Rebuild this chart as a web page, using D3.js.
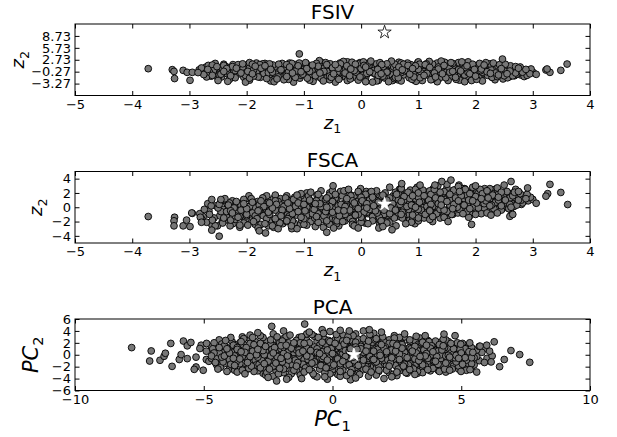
<!DOCTYPE html>
<html><head><meta charset="utf-8">
<script src="https://cdn.jsdelivr.net/npm/d3@7"></script>
<style>
body{margin:0;background:#fff;}
svg{display:block;}
text{font-family:"DejaVu Sans",sans-serif;fill:#000;}
</style></head><body>
<svg id="chart" width="617" height="437"></svg>
<script>
// FSIV projection: [z1, z2]
const fsivPoints = [
[-2.12,0.4],[-1.63,-1.2],[-0.88,0.9],[-0.41,-0.3],[0.07,1.5],[0.61,-0.8],[1.12,0.2],[1.38,-1.7],[1.94,0.6],[2.41,-0.4],[-2.71,0.9],
[-1.86,-0.6],[-1.42,1.3],[-1.07,-1.9],[-0.63,0.1],[0.19,-0.5],[0.38,0.8],[0.83,-1.3],[1.62,1.1],[2.13,-0.9],[2.57,0.3],[2.86,-0.7],
[-2.23,-1.1],[-1.51,0.2],[-0.93,-0.2],[-0.37,1.9],[-0.12,-1.4],[0.72,0.5],[1.21,-0.5],[1.47,0.0],[1.88,-2.0],[2.33,1.0],[-2.48,-0.3],
[-1.97,1.6],[-1.28,-0.8],[-0.71,-1.1],[-0.22,0.6],[0.31,-2.1],[0.54,0.1],[1.03,1.4],[1.71,-0.4],[2.22,0.4],[2.68,-1.3],[0.02,-0.1],
[-2.31,0.7],[-1.74,-0.2],[-1.19,0.5],[-0.56,-0.9],[-0.04,0.3],[0.47,-1.6],[0.96,-0.1],[1.29,0.8],[2.04,-1.1],[2.49,0.1],[-2.62,-1.4],
[-2.05,-1.7],[-1.57,0.9],[-0.81,0.3],[-0.29,-1.5],[0.12,0.9],[0.66,2.1],[1.17,-1.0],[1.56,-0.7],[1.79,1.4],[2.38,-0.8],[2.93,-0.2],
[-1.81,0.0],[-1.36,-1.4],[-0.98,1.1],[-0.47,0.4],[0.25,-0.9],[0.79,-0.3],[1.33,1.9],[1.91,-0.2],[2.28,-1.6],[2.62,0.7],[-0.67,-2.3],
[-2.27,0.2],[-1.68,1.8],[-1.12,-0.5],[-0.59,1.3],[-0.08,-0.6],[0.43,0.4],[0.88,1.0],[1.44,-1.2],[1.99,0.9],[2.46,-1.0],[-2.77,-0.2],
[-1.93,-0.9],[-1.47,0.6],[-0.79,-1.6],[-0.33,-0.1],[0.21,1.2],[0.58,-0.6],[1.08,0.4],[1.66,0.3],[2.17,-0.3],[2.71,0.2],[1.24,-2.2],
[-2.16,1.2],[-1.58,-1.0],[-1.01,0.1],[-0.52,-0.5],[-0.17,0.8],[0.34,-1.2],[0.91,-0.7],[1.51,1.5],[2.08,0.1],[2.53,-0.6],[-2.55,0.5],
[-1.77,0.5],[-1.24,1.0],[-0.86,-0.8],[-0.43,0.9],[0.08,-1.8],[0.69,0.7],[1.19,0.0],[1.58,-0.2],[1.84,-1.5],[2.31,0.6],[2.79,-1.1],
[-2.38,-0.7],[-1.89,0.9],[-1.33,0.4],[-0.74,0.6],[-0.26,-0.8],[0.16,0.2],[0.74,-1.1],[1.26,-1.3],[1.73,0.9],[2.24,-0.5],[-0.02,2.0],
[-2.09,-0.3],[-1.61,-1.5],[-1.15,1.5],[-0.66,-0.4],[-0.11,1.1],[0.52,-0.2],[0.99,2.0],[1.41,0.5],[2.01,-0.7],[2.59,-0.9],[-2.67,1.3],
[-1.84,-1.3],[-1.39,0.0],[-0.95,0.6],[-0.38,-1.9],[0.29,0.5],[0.63,-1.4],[1.14,0.7],[1.69,-1.0],[2.19,1.2],[2.44,0.0],[3.01,-0.5],
[-2.24,1.5],[-1.71,0.3],[-1.05,-1.2],[-0.49,0.2],[0.04,-1.0],[0.41,1.3],[0.86,0.2],[1.36,-0.4],[1.96,-1.3],[2.64,-0.3],[0.93,-2.4],
[-1.99,0.3],[-1.46,-0.6],[-0.76,1.6],[-0.18,-1.2],[0.36,-0.3],[0.77,1.1],[1.31,-0.8],[1.82,0.2],[2.26,0.9],[2.74,-0.8],[-2.44,-1.6],
[-2.34,-0.1],[-1.8,1.1],[-1.22,-0.3],[-0.61,-1.4],[-0.06,0.4],[0.57,0.9],[1.06,-1.5],[1.53,-0.9],[2.11,0.5],[2.36,-1.4],[-1.52,-2.2],
[-2.02,-1.2],[-1.54,1.4],[-0.9,-0.4],[-0.45,1.1],[0.17,-0.2],[0.49,-0.9],[1.01,0.9],[1.64,0.7],[2.06,-1.8],[2.55,0.5],[2.84,0.1],
[-1.9,1.0],[-1.31,-1.1],[-0.83,0.7],[-0.31,0.5],[0.27,1.7],[0.7,-0.5],[1.23,0.3],[1.76,-0.6],[2.29,-0.1],[2.66,-0.5],[-2.58,-0.9],
[-2.19,-0.5],[-1.66,0.1],[-1.09,0.9],[-0.57,-0.1],[-0.14,-1.7],[0.31,0.6],[0.82,-0.4],[1.49,0.2],[1.92,1.1],[2.51,-1.2],[0.6,-2.1],
[-2.42,0.3],[-1.76,-1.7],[-1.26,0.7],[-0.68,-0.7],[0.11,-0.8],[0.62,0.3],[1.16,1.2],[1.59,-1.5],[2.14,-0.6],[2.42,0.8],[-0.24,2.2],
[-1.95,0.7],[-1.44,-0.3],[-1.03,-0.7],[-0.35,1.4],[0.22,0.0],[0.87,1.5],[1.28,-0.1],[1.81,-1.1],[2.35,0.3],[2.77,-0.2],[-2.83,0.2],
[-2.28,-1.5],[-1.59,0.5],[-0.96,1.8],[-0.51,-1.1],[0.06,0.7],[0.53,-1.1],[1.09,-0.3],[1.43,1.0],[2.03,0.7],[2.6,-1.5],[1.7,2.0],
[-2.07,0.9],[-1.49,-0.9],[-0.73,0.0],[-0.2,-0.3],[0.39,1.0],[0.94,0.6],[1.37,-1.9],[1.86,0.5],[2.21,-1.2],[2.69,0.4],[-1.2,-2.4],
[-1.83,-0.4],[-1.35,0.8],[-0.89,-1.3],[-0.42,-0.6],[0.14,1.4],[0.68,-0.1],[1.11,-0.9],[1.61,1.3],[2.12,-0.4],[2.47,-1.7],[2.97,0.4],
[-2.36,1.0],[-1.7,-0.7],[-1.17,-1.6],[-0.64,0.8],[-0.09,-0.4],[0.46,-0.4],[0.97,1.3],[1.54,0.6],[1.97,-0.9],[2.39,1.2],[-2.5,-1.9],
[-2.13,-0.8],[-1.62,0.7],[-1.1,0.3],[-0.54,1.7],[0.02,-1.2],[0.59,1.6],[1.05,-0.6],[1.68,-1.4],[2.27,0.2],[2.58,0.9],[0.3,-2.5],
[-1.88,0.1],[-1.27,-0.4],[-0.8,-1.0],[-0.27,0.3],[0.33,-1.5],[0.76,0.0],[1.25,1.6],[1.78,1.7],[2.09,0.0],[2.72,-0.9],[-1.95,2.0],
[-2.2,0.0],[-1.45,-1.6],[-0.99,1.2],[-0.44,-1.7],[0.24,-0.7],[0.84,-1.8],[1.35,0.9],[1.87,-0.5],[2.32,-0.9],[-0.7,2.1],[1.0,-2.3],
[-1.72,1.3],[-1.14,-0.1],[-0.6,-0.2],[-0.05,1.7],[0.44,-1.9],[1.18,-1.2],[1.63,-0.5],[2.16,1.5],[2.52,-0.2],[-2.4,1.6],[0.7,1.9],
[-2.55,1.8],[-1.95,-2.4],[-1.38,1.8],[-0.84,-2.7],[-0.31,2.3],[0.27,-2.6],[0.81,1.9],[1.33,-2.8],[1.87,2.2],[2.34,-2.3],[2.78,0.9],
[-2.3,-2.2],[-1.72,1.7],[-1.18,-2.9],[-0.62,2.0],[-0.05,-2.4],[0.53,2.4],[1.07,-2.5],[1.6,1.8],[2.12,-2.6],[2.61,1.2],[-2.7,-1.6],
[-2.15,1.5],[-1.58,-2.6],[-0.98,1.7],[-0.45,-2.9],[0.13,1.9],[0.64,-2.3],[1.19,2.3],[1.72,-2.4],[2.25,1.7],[2.85,-1.5],[-0.73,2.5],
[-2.48,-1.1],[-1.83,1.9],[-1.27,-2.2],[-0.7,-1.9],[-0.16,2.1],[0.4,-1.8],[0.96,-2.7],[1.46,2.1],[1.98,-1.9],[2.48,-2.1],[2.7,1.0],
[-2.02,-2.9],[-1.44,1.6],[-0.9,-2.4],[-0.36,1.7],[0.2,-2.9],[0.74,1.6],[1.26,-2.0],[1.81,-2.8],[2.31,1.9],[-2.6,1.4],[0.55,-2.5],
[-2.4,1.3],[-1.65,-2.0],[-1.08,1.9],[-0.55,-2.3],[0.04,2.2],[0.58,-2.0],[1.14,1.7],[1.66,-2.2],[2.18,2.0],[2.56,-1.8],[-1.25,1.9],
[-2.2,-1.8],[-1.52,-2.8],[-0.94,-1.9],[-0.24,-2.5],[0.33,2.0],[0.89,-2.2],[1.4,2.4],[1.93,-2.5],[2.42,1.5],[-2.75,-0.5],[1.0,2.2],
[-1.9,1.6],[-1.35,-2.3],[-0.78,1.8],[-0.19,-2.1],[0.45,1.7],[1.03,-1.8],[1.52,-2.5],[2.07,1.8],[2.65,-1.3],[-2.5,-2.5],[0.08,-2.8],
[-2.33,-2.7],[-1.77,1.5],[-1.21,1.8],[-0.66,-2.6],[-0.1,1.6],[0.48,-2.8],[1.02,1.6],[1.57,2.0],[2.02,-2.2],[2.52,1.6],[2.9,-1.2],
[-2.07,1.7],[-1.47,-2.1],[-0.97,2.0],[-0.39,-2.2],[0.17,2.4],[0.7,-2.6],[1.22,-2.3],[1.76,2.2],[2.29,-1.7],[-2.58,0.0],[-0.55,-1.4],
[-2.45,-0.9],[-1.8,-1.6],[-1.15,-1.7],[-0.6,1.5],[-0.02,-1.6],[0.36,1.5],[0.92,-1.6],[1.48,-1.8],[1.95,1.6],[2.38,-1.5],[-1.6,1.7],
[-2.25,1.0],[-1.62,-0.5],[-1.02,-0.9],[-0.5,0.7],[0.1,-0.7],[0.66,0.9],[1.15,-0.7],[1.7,0.2],[2.2,-0.3],[2.7,-0.6],[-2.65,-0.4],
[-1.98,-0.2],[-1.4,0.2],[-0.86,0.0],[-0.28,-0.6],[0.29,0.3],[0.85,-0.9],[1.35,0.4],[1.9,-0.8],[2.45,0.5],[2.95,-0.8],[0.0,0.5],
[-2.35,0.5],[-1.75,0.6],[-1.2,-0.6],[-0.65,-0.2],[-0.12,0.0],[0.45,-0.4],[1.0,0.3],[1.55,-0.4],[2.1,0.4],[2.6,-0.1],[-0.9,-0.2],
[-2.1,-0.6],[-1.55,-0.4],[-0.95,0.5],[-0.4,0.6],[0.15,-0.3],[0.72,0.2],[1.28,-0.6],[1.82,0.8],[2.35,-0.6],[2.82,-0.4],[1.6,-0.2],
[-2.6,-1.2],[-1.88,-1.4],[-1.3,1.5],[-0.75,1.1],[-0.2,-1.3],[0.38,-1.4],[0.95,1.2],[1.45,1.3],[2.0,-1.4],[2.5,-1.3],[-0.45,1.5],
[-2.28,-1.3],[-1.68,1.2],[-1.1,1.2],[-0.52,-1.7],[0.05,1.3],[0.6,-1.7],[1.12,1.5],[1.65,-1.7],[2.15,1.4],[2.75,0.6],[-1.95,-1.9],
[-1.85,1.1],[-1.3,-1.5],[-0.8,-1.3],[-0.25,1.2],[0.3,-1.2],[0.82,1.3],[1.3,-1.6],[1.85,1.2],[2.4,-1.1],[-2.52,1.0],[0.65,-1.8],
[-2.4,-0.2],[-1.9,-0.8],[-1.25,0.9],[-0.72,-0.6],[-0.18,0.4],[0.35,-0.8],[0.9,0.5],[1.42,-0.8],[1.98,0.3],[2.55,-0.8],[2.88,0.3],
[-2.18,0.6],[-1.58,0.3],[-1.05,-0.3],[-0.48,-0.8],[0.08,0.9],[0.62,-0.6],[1.2,0.8],[1.74,-0.1],[2.26,-0.7],[-0.85,1.4],[1.1,-1.2],
[-3.72,0.48],[-3.3,0.23],[-3.27,-0.2],[-3.26,-2.0],[-3.11,0.06],[-3.04,-0.44],[-2.95,-0.44],[-2.99,-2.45],[-2.79,0.65],[-2.75,-1.0],
[-2.68,0.3],[-2.85,-0.5],[3.23,0.15],[3.3,-0.44],[3.49,0.06],[3.6,1.65],[3.25,0.4],[3.06,-0.94],[2.47,2.9],[-1.08,4.2]
];
const fsivStar = [0.41, 9.65];

// FSCA projection: [z1, z2]
const fscaPoints = [
[-2.14,0.0],[-1.61,-1.9],[-0.93,1.3],[-0.44,-0.5],[0.09,2.2],[0.58,-1.4],[1.07,0.9],[1.52,-0.3],[1.98,2.4],[2.43,0.5],[-2.66,-0.5],
[-1.87,-0.9],[-1.41,1.2],[-1.06,-2.4],[-0.62,0.3],[0.18,-0.7],[0.39,1.5],[0.84,-1.1],[1.63,2.4],[2.12,-0.3],[2.56,2.0],[2.87,0.9],
[-2.24,-2.3],[-1.52,-0.2],[-0.91,-0.4],[-0.36,2.2],[-0.13,-1.9],[0.73,1.1],[1.22,-0.2],[1.46,0.9],[1.89,-1.3],[2.34,2.5],[-2.47,-1.2],
[-1.96,1.2],[-1.29,-1.5],[-0.72,-1.6],[-0.21,0.8],[0.32,-2.2],[0.55,0.6],[1.04,2.4],[1.72,0.4],[2.21,1.6],[2.67,0.1],[0.01,0.1],
[-2.32,0.1],[-1.73,-1.0],[-1.18,0.2],[-0.57,-1.4],[-0.03,0.5],[0.48,-1.7],[0.97,0.4],[1.3,1.7],[2.05,-0.5],[2.48,1.4],[-2.61,-2.4],
[-2.03,-2.0],[-1.56,0.6],[-0.82,0.2],[-0.28,-1.9],[0.13,1.3],[0.67,2.5],[1.18,-0.7],[1.57,-0.1],[1.81,2.6],[2.37,0.2],[2.92,0.9],
[-1.79,-0.6],[-1.37,-2.3],[-0.97,1.0],[-0.46,0.5],[0.26,-0.9],[0.81,0.1],[1.34,3.0],[1.93,0.8],[2.29,-0.6],[2.63,1.9],[-0.66,-2.8],
[-2.26,0.4],[-1.69,1.4],[-1.13,-1.1],[-0.58,1.4],[-0.07,-0.8],[0.44,0.8],[0.89,1.8],[1.43,-0.8],[1.99,2.0],[2.46,0.1],[-2.76,-1.3],
[-1.92,-1.8],[-1.48,0.3],[-0.78,-2.3],[-0.34,-0.3],[0.22,1.7],[0.59,-0.5],[1.09,1.2],[1.67,1.2],[2.18,0.6],[2.72,1.6],[1.25,-2.0],
[-2.17,0.6],[-1.57,-1.9],[-1.02,0.1],[-0.51,-1.0],[-0.16,1.2],[0.35,-1.6],[0.92,-0.5],[1.5,2.7],[2.07,1.2],[2.54,0.4],[-2.54,0.2],
[-1.76,0.0],[-1.23,1.0],[-0.87,-1.5],[-0.42,1.3],[0.07,-2.2],[0.68,1.3],[1.2,0.5],[1.59,0.6],[1.83,-0.9],[2.32,1.9],[2.8,0.4],
[-2.37,-1.8],[-1.9,0.5],[-1.32,0.0],[-0.73,0.6],[-0.25,-1.3],[0.16,0.4],[0.74,-1.3],[1.27,-1.1],[1.74,2.0],[2.23,0.5],[-0.01,2.6],
[-2.08,-0.7],[-1.62,-2.6],[-1.16,1.4],[-0.67,-0.9],[-0.12,1.6],[0.51,-0.1],[0.98,2.8],[1.42,1.3],[2.02,0.2],[2.58,0.7],[-2.68,0.5],
[-1.85,-2.4],[-1.38,-0.6],[-0.94,0.4],[-0.39,-2.6],[0.28,0.9],[0.64,-1.3],[1.13,1.5],[1.7,-0.6],[2.2,2.3],[2.45,1.0],[3.0,1.1],
[-2.25,0.9],[-1.72,-0.2],[-1.04,-1.8],[-0.48,0.0],[0.03,-1.2],[0.42,2.0],[0.87,0.7],[1.37,0.3],[1.95,-0.6],[2.65,1.0],[0.94,-2.3],
[-1.98,-0.3],[-1.45,-1.4],[-0.77,1.7],[-0.19,-1.6],[0.37,0.0],[0.78,1.9],[1.32,-0.7],[1.8,1.2],[2.25,2.6],[2.75,0.7],[-2.43,-2.1],
[-2.33,-0.8],[-1.81,0.8],[-1.21,-1.0],[-0.6,-2.1],[-0.07,0.8],[0.56,1.6],[1.05,-1.1],[1.54,-0.3],[2.1,1.7],[2.35,-0.1],[-1.53,-2.8],
[-2.01,-1.6],[-1.53,1.2],[-0.89,-0.6],[-0.45,1.3],[0.16,-0.2],[0.5,-0.9],[1.02,1.8],[1.65,1.8],[2.06,-0.6],[2.55,1.7],[2.83,1.6],
[-1.89,0.7],[-1.3,-2.0],[-0.84,0.8],[-0.3,0.5],[0.27,2.3],[0.71,-0.4],[1.24,1.0],[1.77,0.1],[2.3,1.3],[2.66,0.5],[-2.57,-1.5],
[-2.18,-1.0],[-1.65,-0.3],[-1.08,0.5],[-0.56,-0.4],[-0.15,-2.0],[0.3,0.9],[0.83,-0.3],[1.48,1.1],[1.91,2.1],[2.52,0.1],[0.61,-2.6],
[-2.41,-0.3],[-1.75,-2.4],[-1.25,0.5],[-0.69,-1.1],[0.12,-0.9],[0.63,0.8],[1.15,2.1],[1.6,-1.0],[2.15,0.5],[2.41,2.2],[-0.23,2.4],
[-1.94,0.2],[-1.43,-1.0],[-1.02,-1.2],[-0.33,1.6],[0.23,0.2],[0.86,2.4],[1.29,0.5],[1.82,-0.4],[2.36,1.5],[2.78,1.2],[-2.82,-0.9],
[-2.29,-2.6],[-1.6,0.1],[-0.95,2.0],[-0.5,-1.6],[0.05,0.9],[0.54,-1.2],[1.1,0.2],[1.44,2.0],[2.04,1.9],[2.61,-0.3],[1.71,3.1],
[-2.06,0.7],[-1.5,-1.7],[-0.74,-0.2],[-0.2,-0.6],[0.4,1.5],[0.95,1.2],[1.38,-1.5],[1.87,1.3],[2.22,-0.3],[2.7,1.3],[-1.21,-3.0],
[-1.82,-1.1],[-1.34,0.6],[-0.88,-2.0],[-0.41,-0.9],[0.15,2.0],[0.69,0.2],[1.12,-0.5],[1.62,2.4],[2.13,0.6],[2.47,-0.2],[2.96,1.4],
[-2.35,0.6],[-1.71,-1.2],[-1.17,-2.2],[-0.65,0.9],[-0.1,-0.5],[0.47,-0.3],[0.96,2.2],[1.55,1.5],[1.96,-0.3],[2.39,2.3],[-2.51,-2.6],
[-2.12,-1.3],[-1.63,0.4],[-1.1,-0.2],[-0.55,2.0],[0.02,-1.6],[0.6,2.1],[1.06,0.0],[1.69,-0.8],[2.27,1.0],[2.59,1.8],[0.31,-2.9],
[-1.88,-0.4],[-1.28,-0.9],[-0.81,-1.5],[-0.26,0.3],[0.33,-1.8],[0.77,0.5],[1.26,2.6],[1.78,2.6],[2.09,0.1],[2.73,0.6],[-1.96,1.6],
[-2.2,-0.3],[-1.46,-2.1],[-0.99,1.2],[-0.43,-2.3],[0.24,-0.6],[0.85,-1.8],[1.36,1.7],[1.86,0.4],[2.33,0.4],[-0.7,2.3],[1.0,-1.9],
[-1.73,1.0],[-1.14,-0.5],[-0.61,-0.5],[-0.04,2.0],[0.45,-2.0],[1.19,-0.8],[1.64,0.2],[2.16,2.6],[2.51,0.9],[-2.4,1.0],[0.7,2.7],
[-1.55,0.0],[-0.35,-0.2],[0.8,1.0],[1.9,0.6],[-2.0,-1.2],[0.1,-0.7],[1.4,-0.2],[-0.9,0.9],[2.4,1.8],[-1.2,-1.9],[0.5,-0.3],
[-1.0,-0.6],[0.25,0.4],[1.75,-0.3],[-2.3,-0.4],[-0.15,0.1],[1.15,1.3],[2.2,0.9],[-1.65,-1.6],[0.65,-0.8],[-0.55,1.7],[1.55,0.3],
[-1.35,-0.3],[-0.05,-0.4],[0.9,0.2],[2.0,1.4],[-0.75,-0.9],[1.5,-1.3],[-1.85,-0.1],[0.4,-1.0],[2.5,0.6],[-0.25,1.0],[1.2,2.3],
[-2.1,0.3],[-0.6,0.4],[0.55,1.2],[1.65,-0.1],[-1.45,0.8],[0.2,-1.3],[1.0,-0.2],[2.15,-0.1],[-0.95,-1.1],[0.0,0.7],[2.6,1.3],
[-1.15,0.3],[0.35,0.2],[1.3,-0.9],[-0.45,-1.3],[1.85,1.7],[-1.75,0.3],[0.75,-0.1],[-0.2,1.8],[2.3,-0.5],[-2.45,-0.6],[1.05,0.8],
[-0.8,0.0],[0.6,0.0],[1.7,0.8],[-1.6,-0.8],[-0.1,-1.0],[1.45,2.2],[-2.2,-1.7],[0.15,1.0],[2.1,-0.9],[-0.5,0.6],[0.95,-1.0],
[-1.4,0.3],[-0.3,-0.7],[0.85,0.6],[1.95,0.0],[-2.05,0.0],[0.45,0.5],[1.25,0.1],[-0.65,-0.3],[2.45,0.4],[-1.05,1.6],[0.05,-0.2],
[-1.9,-0.8],[-0.7,1.2],[0.3,-0.4],[1.35,0.6],[2.25,1.2],[-1.25,-1.2],[0.7,1.7],[-0.15,-2.4],[1.6,-0.7],[-2.35,-1.4],[1.0,1.4],
[-0.4,0.2],[0.65,1.9],[1.8,0.0],[-1.5,-0.4],[-0.85,-0.3],[0.2,0.6],[1.1,-1.5],[2.35,0.8],[-2.15,-0.5],[0.0,-1.4],[1.45,-1.1],
[-1.1,1.1],[0.5,-2.1],[1.55,1.0],[-0.05,0.3],[-1.7,0.5],[0.9,-1.4],[2.05,0.3],[-0.95,-2.5],[0.35,1.6],[1.9,-0.8],[-0.45,-1.8],
[-2.3,0.6],[-1.8,-2.9],[-1.3,1.6],[-0.8,-2.7],[-0.3,2.3],[0.2,-1.9],[0.7,2.6],[1.2,-1.7],[1.7,2.9],[2.2,-0.8],[2.7,2.5],
[-2.55,-2.6],[-2.05,1.1],[-1.55,-2.6],[-1.05,1.9],[-0.55,-2.4],[-0.05,2.2],[0.45,-2.2],[0.95,2.5],[1.45,-1.4],[1.95,2.8],[2.45,-0.4],
[-2.42,-2.2],[-1.92,1.2],[-1.42,-2.2],[-0.92,1.6],[-0.42,-1.9],[0.08,1.8],[0.58,-1.5],[1.08,2.4],[1.58,-1.0],[2.08,2.5],[2.58,-0.2],
[-2.18,0.8],[-1.68,-2.3],[-1.18,1.1],[-0.68,-1.7],[-0.18,1.6],[0.32,-1.4],[0.82,2.1],[1.32,-0.9],[1.82,2.5],[2.32,-0.2],[2.82,0.6],
[-2.62,0.2],[-2.12,-2.8],[-1.62,0.7],[-1.12,-3.0],[-0.62,1.1],[-0.12,-2.6],[0.38,1.7],[0.88,-2.1],[1.38,2.1],[1.88,-1.4],[2.38,2.7],
[-2.28,-1.8],[-1.78,0.3],[-1.28,-1.6],[-0.78,0.9],[-0.28,-1.0],[0.22,1.2],[0.72,-0.7],[1.22,1.8],[1.72,-0.3],[2.22,2.1],[2.72,0.3],
[-2.05,-2.2],[-1.5,1.7],[-1.0,-2.4],[-0.5,2.3],[0.0,-2.1],[0.5,2.8],[1.0,-1.5],[1.5,3.2],[2.0,-1.0],[2.5,3.1],[-2.7,-2.1],
[-2.35,-0.6],[-1.85,-1.2],[-1.35,0.1],[-0.85,-0.9],[-0.35,0.4],[0.15,-0.3],[0.65,1.0],[1.15,0.1],[1.65,1.3],[2.15,0.5],[2.65,1.6],
[-2.5,-0.1],[-2.0,-1.0],[-1.5,0.9],[-1.0,-1.6],[-0.5,-0.7],[0.0,1.4],[0.5,-0.9],[1.0,2.0],[1.5,-0.6],[2.0,1.5],[2.9,1.8],
[-2.2,-1.2],[-1.7,0.1],[-1.2,-0.9],[-0.7,0.1],[-0.2,-0.4],[0.3,0.7],[0.8,0.1],[1.3,1.3],[1.8,0.3],[2.3,1.7],[2.8,1.0],
[-2.45,0.9],[-1.95,0.1],[-1.45,-3.0],[-0.95,0.0],[-0.45,1.8],[0.05,-0.7],[0.55,0.5],[1.05,-0.4],[1.55,1.8],[2.05,-0.1],[2.55,2.2],
[-2.15,-1.4],[-1.65,1.6],[-1.15,0.1],[-0.65,-1.2],[-0.15,0.9],[0.35,-1.9],[0.85,1.2],[1.35,0.5],[1.85,-0.6],[2.35,0.7],[2.75,1.0],
[-2.6,-1.8],[-2.1,-0.4],[-1.6,-1.0],[-1.1,0.6],[-0.6,-1.9],[-0.1,0.3],[0.4,0.1],[0.9,-1.1],[1.4,1.1],[1.9,1.9],[2.4,1.0],
[-2.32,0.3],[-1.82,-1.6],[-1.32,1.3],[-0.82,-0.3],[-0.32,-2.0],[0.18,2.2],[0.68,0.4],[1.18,1.0],[1.68,0.0],[2.18,0.9],[2.68,2.1],
[-2.0,-0.2],[-1.5,-1.6],[-1.0,0.4],[-0.5,0.8],[0.0,-1.4],[0.5,1.3],[1.0,-0.3],[1.5,0.8],[2.0,3.0],[2.6,0.4],[-0.75,1.8],
[-2.38,1.2],[-1.88,-2.0],[-1.38,-0.4],[-0.88,2.1],[-0.38,-1.2],[0.12,-2.3],[0.62,1.8],[1.12,-1.0],[1.62,0.4],[2.12,1.9],[2.62,0.0],
[-2.22,-0.1],[-1.72,1.3],[-1.22,-2.6],[-0.72,0.5],[-0.22,2.5],[0.28,-0.8],[0.78,-2.3],[1.28,2.5],[1.78,-0.9],[2.28,0.3],[2.78,1.9],
[-2.48,0.4],[-1.98,-2.5],[-1.48,0.4],[-0.98,-0.5],[-0.48,-2.9],[0.02,0.9],[0.52,-0.1],[1.02,0.7],[1.52,-2.0],[2.02,0.6],[2.52,1.0],
[-2.12,-2.5],[-1.62,-0.7],[-1.12,1.7],[-0.62,-0.6],[-0.12,0.6],[0.38,-2.7],[0.88,0.3],[1.38,-0.3],[1.88,1.0],[2.38,-0.8],[2.88,1.2],
[-2.65,-1.0],[-1.75,0.9],[-1.25,-0.2],[-0.75,-2.1],[-0.25,1.2],[0.25,-0.5],[0.75,1.5],[1.25,-1.3],[1.75,1.6],[2.25,0.2],[2.75,2.2],
[-2.28,-0.5],[-1.78,-0.4],[-1.28,0.6],[-0.78,-1.3],[-0.28,0.1],[0.22,0.2],[0.72,-1.5],[1.22,0.4],[1.72,2.2],[2.22,1.3],[-0.05,-1.0],
[-2.4,-1.5],[-1.9,0.7],[-1.4,-1.2],[-0.9,1.0],[-0.4,-0.4],[0.1,0.5],[0.6,-0.4],[1.1,1.6],[1.6,-0.2],[2.1,1.2],[2.45,0.2],
[-2.05,0.5],[-1.55,-0.1],[-1.05,-1.4],[-0.55,0.1],[-0.05,-0.2],[0.45,1.0],[0.95,0.0],[1.45,-0.4],[1.95,0.9],[2.45,2.1],[1.2,-0.4],
[-2.25,-0.8],[-1.6,0.6],[-1.1,-0.6],[-0.6,1.3],[-0.1,-1.1],[0.4,-0.4],[0.9,1.6],[1.4,0.3],[1.9,-0.2],[2.4,1.4],[0.7,-1.0],
[-1.8,-0.5],[-1.3,-1.9],[-0.8,0.5],[-0.3,-0.5],[0.2,1.4],[0.7,0.8],[1.2,-0.5],[1.7,0.9],[2.2,2.3],[-0.6,0.0],[0.1,-0.1],
[-3.72,-1.3],[-3.26,-1.4],[-3.27,-1.9],[-3.27,-2.6],[-3.11,-2.6],[-3.05,-1.8],[-2.99,-2.7],[-2.95,-0.85],[-2.79,-1.6],[-2.96,-0.8],
[-2.61,1.08],[-2.45,1.08],[-2.74,-0.3],[-2.81,-1.4],[-2.79,-2.1],[-2.61,-3.2],[3.3,3.2],[3.26,1.9],[3.23,1.55],[3.49,2.07],
[3.61,0.38],[3.06,0.56],[2.91,2.7],[2.62,3.6],[2.6,-1.27],[2.65,-1.0],[2.27,-1.1],[1.93,-2.4],[1.57,3.8],[-2.48,-4.05],
[-1.78,-3.3],[-1.67,-3.6],[-0.6,-3.5],[0.54,-3.15],[0.71,3.3],[1.41,3.6],[-0.49,3.0],[1.03,3.1],[1.29,3.1],[-0.05,-2.9]
];
const fscaStar = [0.41, 0.42];

// PCA projection: [PC1, PC2]
const pcaPoints = [
[-4.2,1.1],[-3.3,-2.4],[-1.8,0.6],[-0.7,3.1],[0.4,-1.2],[1.3,0.2],[2.2,-3.0],[3.1,1.5],[4.3,-0.6],[5.2,0.9],[-5.3,-0.4],
[-3.7,-0.5],[-2.6,2.3],[-2.1,-1.4],[-1.2,-0.3],[0.1,2.5],[0.8,-2.7],[1.9,1.1],[2.8,-0.9],[3.7,2.4],[4.8,-1.6],[0.5,0.4],
[-4.5,-1.7],[-3.1,0.8],[-1.6,-3.2],[-0.4,1.4],[0.6,-0.1],[1.6,3.3],[2.5,-1.9],[3.4,0.3],[4.1,-2.6],[5.5,0.2],[-0.9,-1.0],
[-3.9,2.2],[-2.8,-1.1],[-1.4,1.8],[-0.2,-2.1],[0.9,1.0],[1.8,-0.8],[2.7,2.7],[3.6,-1.4],[4.6,0.8],[5.1,-2.2],[-2.3,3.5],
[-4.1,0.1],[-3.4,1.6],[-2.2,-2.6],[-1.0,0.4],[0.2,-3.3],[1.1,1.9],[2.3,0.0],[3.3,-2.5],[4.4,1.6],[5.7,-1.0],[1.5,-1.5],
[-4.7,1.4],[-2.9,-0.2],[-1.9,2.7],[-0.5,-1.5],[0.7,0.8],[1.4,-3.6],[2.6,1.4],[3.8,0.6],[4.2,-1.3],[5.3,1.3],[-0.1,3.9],
[-3.6,-2.0],[-2.4,0.7],[-1.3,-0.9],[-0.3,0.2],[0.5,-1.9],[1.7,2.3],[2.1,-1.1],[3.2,1.1],[4.7,-0.2],[6.0,-0.6],[-1.7,-3.8],
[-4.3,-0.9],[-3.2,2.6],[-2.0,0.0],[-0.8,-2.8],[0.3,1.6],[1.2,-0.4],[2.4,3.2],[3.5,-0.3],[4.5,-2.1],[4.9,0.5],[2.9,-3.1],
[-3.8,0.6],[-2.7,-3.1],[-1.5,1.2],[-0.6,2.2],[0.0,-0.6],[1.0,-2.2],[2.0,0.5],[3.0,2.2],[3.9,-0.9],[5.0,-1.4],[-4.9,-0.8],
[-4.4,2.5],[-3.0,-1.5],[-2.5,1.3],[-1.1,-1.8],[0.8,2.9],[1.5,0.7],[2.8,-2.2],[3.3,0.0],[4.0,1.9],[5.6,-0.3],[-0.2,-4.1],
[-3.5,-0.8],[-2.3,-2.0],[-1.7,2.0],[-0.9,0.9],[0.4,-2.6],[1.9,-1.6],[2.2,2.0],[3.7,1.3],[4.8,-0.9],[5.4,-2.0],[0.9,3.5],
[-4.0,-2.4],[-3.5,3.0],[-1.9,-0.7],[-0.1,-1.0],[0.6,1.3],[1.3,-1.3],[2.6,-0.5],[3.9,-2.0],[4.3,1.0],[5.9,1.0],[-2.6,-3.4],
[-4.6,0.5],[-2.9,1.9],[-2.1,0.4],[-1.3,-2.4],[0.1,0.6],[1.0,2.6],[2.5,-3.5],[3.4,2.8],[4.6,-1.5],[5.2,-0.4],[-3.3,-1.9],
[-3.9,-1.2],[-2.7,0.2],[-1.6,-1.3],[-0.6,-0.2],[0.7,-1.6],[1.7,0.6],[2.9,1.0],[3.0,-1.0],[4.1,0.2],[5.5,-1.7],[1.2,4.0],
[-4.3,1.8],[-3.1,-0.6],[-2.3,-1.0],[-0.4,2.7],[0.2,-2.3],[1.4,1.5],[2.1,-2.4],[3.6,0.9],[4.5,2.2],[4.9,-2.4],[-1.1,3.0],
[-3.4,0.4],[-2.5,-2.3],[-1.2,0.0],[-0.7,-3.5],[0.5,0.3],[1.8,-2.8],[2.7,0.8],[3.2,-1.8],[4.4,-0.5],[5.8,0.4],[-5.1,1.6],
[-4.8,-1.1],[-3.7,1.0],[-2.2,1.6],[-1.0,2.4],[0.3,-0.4],[1.1,0.0],[2.3,-1.5],[3.5,1.9],[3.8,-2.7],[5.1,1.6],[0.0,-2.9],
[-4.1,-0.4],[-2.8,-1.8],[-1.8,3.1],[-0.3,-1.3],[0.9,-1.0],[1.6,2.0],[2.4,-0.7],[3.1,-0.4],[4.2,1.4],[5.3,-1.1],[-1.4,-2.7],
[-3.6,2.0],[-3.0,0.3],[-1.5,-2.1],[-0.8,1.1],[0.6,2.0],[1.3,-2.0],[2.8,0.3],[3.7,-1.1],[4.7,0.9],[6.2,-0.2],[2.0,-4.0],
[-4.5,0.8],[-2.4,-0.4],[-2.0,-3.0],[-0.5,0.6],[0.1,-1.4],[1.9,0.9],[2.2,2.5],[3.3,-3.1],[4.0,-1.6],[5.0,0.1],[-3.2,3.3],
[-3.8,-2.6],[-2.6,1.0],[-1.4,-0.4],[-0.2,1.9],[0.8,-0.3],[1.2,1.2],[2.6,-2.7],[3.9,1.7],[4.6,0.0],[5.6,0.8],[-0.6,-3.7],
[-4.2,-1.5],[-3.3,0.0],[-1.7,0.9],[-1.0,-1.1],[0.4,3.3],[1.5,-1.0],[2.0,-0.2],[3.4,-0.8],[4.3,-1.9],[5.4,0.6],[0.7,-4.2],
[-3.5,1.3],[-2.9,-2.7],[-1.9,1.5],[-0.9,-0.5],[0.0,1.1],[1.7,-0.1],[2.5,1.8],[3.0,0.8],[4.8,1.2],[5.2,-2.6],[-2.3,-3.6],
[-4.0,0.9],[-2.5,-0.7],[-1.3,2.9],[-0.4,-2.2],[0.9,0.4],[1.0,-3.1],[2.9,-1.3],[3.6,2.6],[4.5,-0.8],[5.7,1.4],[1.6,3.6],
[-4.6,-0.3],[-3.2,-1.0],[-2.2,0.5],[-0.7,0.7],[0.3,-1.9],[1.9,2.8],[2.3,0.6],[3.5,-2.2],[3.9,0.4],[5.0,-0.8],[-1.6,-1.6],
[-3.7,0.0],[-2.7,2.9],[-1.6,-0.1],[-0.3,-0.8],[0.5,1.9],[1.4,0.5],[2.7,-0.1],[3.2,2.4],[4.4,-2.9],[5.9,-1.3],[-4.9,0.6],
[-4.4,-1.8],[-3.1,1.1],[-2.0,-1.7],[-1.1,1.6],[0.2,0.0],[1.1,-1.1],[2.1,1.6],[3.8,-0.5],[4.2,2.1],[5.3,0.0],[0.3,-3.6],
[-3.3,-0.3],[-2.3,0.3],[-1.8,-2.3],[-0.6,-1.2],[0.7,2.4],[1.6,-1.9],[2.4,1.0],[3.1,-2.6],[4.9,1.7],[5.5,-0.5],[-0.4,4.2],
[-4.2,0.4],[-2.8,1.5],[-1.2,-1.6],[-0.1,0.4],[0.6,-0.9],[1.8,1.6],[2.6,-1.6],[3.3,1.5],[4.0,-1.2],[4.7,-1.9],[-2.7,-2.2],
[-3.9,-1.7],[-2.4,-1.4],[-1.5,0.3],[-0.8,3.4],[0.4,0.2],[1.2,-2.5],[2.0,2.2],[3.7,0.1],[4.6,1.5],[6.1,0.6],[1.3,-0.6],
[-3.6,0.7],[-2.1,2.2],[-1.0,-2.0],[0.0,-2.5],[0.8,1.5],[1.5,-0.2],[2.2,-0.8],[3.0,-1.5],[4.3,0.3],[5.1,-0.7],[-0.9,0.1],
[-4.4,0.0],[-3.0,-0.9],[-1.9,-1.0],[-0.5,1.6],[0.2,2.8],[1.0,0.8],[2.5,0.0],[3.4,-0.6],[4.1,-0.3],[5.4,1.2],[2.8,3.0],
[-3.4,-1.4],[-2.6,-0.1],[-1.4,2.2],[-0.2,0.0],[0.9,-2.1],[1.7,1.1],[2.9,-2.0],[3.6,1.0],[4.8,-0.4],[-2.1,-2.0],[0.6,-0.5],
[-3.8,1.7],[-2.2,-0.9],[-1.1,0.5],[-0.6,-0.7],[0.5,-0.8],[1.3,2.2],[2.3,-0.3],[3.2,0.5],[3.9,-0.9],[-1.7,-0.3],[1.9,-0.5],
[-4.7,-0.6],[-3.2,0.9],[-2.4,1.8],[-1.3,-0.2],[0.1,-0.1],[1.1,1.4],[2.7,1.9],[3.5,-1.2],[4.5,0.5],[-0.3,2.6],[2.1,-1.8],
[-3.5,-0.2],[-2.8,0.6],[-1.6,1.0],[-0.9,-1.9],[0.3,1.2],[1.4,-0.9],[2.4,0.4],[3.0,1.2],[4.2,-0.7],[-0.1,-0.5],[1.8,-1.3],
[-4.0,-0.1],[-2.5,0.0],[-1.8,-0.5],[-0.7,1.3],[0.7,-0.6],[1.6,1.0],[2.8,-0.7],[3.6,-0.4],[4.6,-0.6],[0.4,1.0],[-1.2,1.0],
[-3.3,0.6],[-2.0,1.0],[-1.1,-0.8],[-0.4,0.5],[0.6,0.6],[1.2,0.4],[2.2,0.9],[3.3,0.7],[3.8,-0.1],[-2.7,-0.8],[1.7,-2.3],
[-3.7,-1.0],[-2.3,-1.2],[-1.4,0.8],[0.0,1.5],[0.8,-1.2],[1.5,1.8],[2.6,0.5],[3.4,1.7],[4.4,0.9],[-0.8,-0.6],[2.0,-0.9],
[-4.1,1.2],[-3.0,1.4],[-1.5,-0.7],[-0.5,-0.4],[0.9,0.0],[1.9,-0.3],[2.5,1.1],[3.1,0.4],[4.0,0.7],[-2.1,-0.2],[1.0,-0.9],
[-4.35,-2.1],[-3.45,2.7],[-2.55,-3.0],[-1.65,3.3],[-0.75,-3.2],[0.15,3.4],[1.05,-3.3],[1.95,3.0],[2.85,-3.0],[3.75,2.2],[4.65,-2.4],
[-3.95,2.9],[-3.05,-2.8],[-2.15,3.0],[-1.25,-3.4],[-0.35,3.6],[0.55,-3.5],[1.45,3.4],[2.35,-3.3],[3.25,3.1],[4.15,-2.8],[5.05,1.9],
[-4.6,2.0],[-3.7,-2.9],[-2.8,3.2],[-1.9,-3.0],[-1.0,3.5],[-0.1,-3.2],[0.8,3.2],[1.7,-3.4],[2.6,2.9],[3.5,-3.0],[4.4,2.5],
[-4.1,-2.8],[-3.2,1.9],[-2.3,-1.9],[-1.4,2.4],[-0.5,-2.4],[0.4,2.3],[1.3,-2.4],[2.2,1.9],[3.1,-2.2],[4.0,2.3],[4.9,-1.9],
[-3.85,1.6],[-2.95,-1.7],[-2.05,2.0],[-1.15,-1.6],[-0.25,1.8],[0.65,-1.7],[1.55,2.1],[2.45,-1.8],[3.35,1.8],[4.25,-1.7],[5.15,1.0],
[-4.5,-0.5],[-3.6,-1.5],[-2.7,1.6],[-1.8,-1.8],[-0.9,2.0],[0.0,-1.9],[0.9,2.1],[1.8,-2.0],[2.7,1.7],[3.6,-1.9],[4.5,1.1],
[-4.2,1.5],[-3.3,-0.8],[-2.4,2.5],[-1.5,-2.6],[-0.6,1.0],[0.3,-2.8],[1.2,2.7],[2.1,-2.6],[3.0,2.5],[3.9,-2.3],[4.8,-1.2],
[-3.75,-1.3],[-2.85,1.2],[-1.95,-1.2],[-1.05,1.3],[-0.15,-1.3],[0.75,1.2],[1.65,-1.3],[2.55,1.3],[3.45,-1.4],[4.35,1.2],[5.25,-1.4],
[-4.4,0.3],[-3.5,-0.3],[-2.6,0.5],[-1.7,-0.5],[-0.8,0.3],[0.1,-0.2],[1.0,0.5],[1.9,-0.6],[2.8,0.4],[3.7,-0.6],[4.6,0.3],
[-4.0,-0.8],[-3.1,0.6],[-2.2,-0.7],[-1.3,0.8],[-0.4,-0.6],[0.5,0.7],[1.4,-0.6],[2.3,0.8],[3.2,-0.7],[4.1,0.6],[5.0,-0.2],
[-4.65,1.0],[-3.75,0.2],[-2.85,-1.6],[-1.95,2.3],[-1.05,-2.2],[-0.15,2.4],[0.75,-2.5],[1.65,2.5],[2.55,-2.4],[3.45,2.0],[4.35,-2.4],
[-4.25,-1.2],[-3.35,1.2],[-2.45,-2.4],[-1.55,1.5],[-0.65,-1.6],[0.25,1.4],[1.15,-1.5],[2.05,1.3],[2.95,-1.7],[3.85,1.5],[4.75,-0.5],
[-3.9,0.4],[-3.0,2.2],[-2.1,-3.2],[-1.2,3.0],[-0.3,-3.0],[0.6,3.0],[1.5,-2.9],[2.4,2.8],[3.3,-2.8],[4.2,0.0],[5.4,-1.5],
[-4.55,-1.3],[-3.65,0.9],[-2.75,-0.9],[-1.85,0.9],[-0.95,-0.8],[-0.05,1.0],[0.85,-1.0],[1.75,0.9],[2.65,-1.1],[3.55,0.8],[4.45,-1.1],
[-4.15,2.4],[-3.25,-2.3],[-2.35,0.9],[-1.45,-0.9],[-0.55,2.9],[0.35,-0.9],[1.25,0.9],[2.15,-0.9],[3.05,1.0],[3.95,-1.1],[4.85,2.0],
[-3.8,-0.2],[-2.9,-0.4],[-2.0,1.5],[-1.1,-2.9],[-0.2,0.8],[0.7,-3.0],[1.6,0.6],[2.5,-2.9],[3.4,-0.1],[4.3,2.6],[5.2,-0.9],
[-4.45,-2.4],[-3.55,2.2],[-2.65,0.0],[-1.75,0.4],[-0.85,-0.4],[0.05,0.1],[0.95,-0.2],[1.85,0.3],[2.75,-0.3],[3.65,0.2],[4.55,-2.6],
[-4.05,0.6],[-3.15,-1.9],[-2.25,1.2],[-1.35,-1.3],[-0.45,-1.8],[0.45,1.8],[1.35,1.4],[2.25,-1.4],[3.15,-2.4],[4.05,-0.3],[4.95,0.9],
[-3.7,1.2],[-2.8,-2.2],[-1.9,0.2],[-1.0,-0.2],[-0.1,2.2],[0.8,-0.4],[1.7,-1.2],[2.6,0.1],[3.5,2.1],[4.4,-0.2],[5.3,0.5],
[-4.3,-0.4],[-3.4,0.4],[-2.5,-1.1],[-1.6,1.1],[-0.7,-1.2],[0.2,-0.7],[1.1,1.0],[2.0,1.1],[2.9,-0.5],[3.8,1.1],[4.7,1.0],
[-3.95,-1.6],[-3.05,1.7],[-2.15,-0.3],[-1.25,2.0],[-0.35,-0.3],[0.55,2.4],[1.45,-0.3],[2.35,1.9],[3.25,0.3],[4.15,1.7],[5.05,-1.6],
[-4.6,0.3],[-3.7,0.9],[-2.8,1.9],[-1.9,-2.4],[-1.0,1.1],[-0.1,-1.3],[0.8,0.3],[1.7,2.7],[2.6,-0.8],[3.5,-1.7],[4.4,-1.4],
[-4.2,-0.2],[-3.3,-1.3],[-2.4,-0.2],[-1.5,2.0],[-0.6,0.4],[0.3,-1.5],[1.2,-0.9],[2.1,0.5],[3.0,-2.5],[3.9,0.5],[4.8,-0.1],
[-3.6,-0.7],[-2.7,0.7],[-1.8,1.6],[-0.9,-2.5],[0.0,0.2],[0.9,1.3],[1.8,-2.6],[2.7,1.1],[3.6,-0.2],[4.5,-0.1],[5.4,-0.5],
[-4.4,1.2],[-3.5,-2.6],[-2.6,1.4],[-1.7,-0.9],[-0.8,-1.4],[0.1,1.9],[1.0,-1.8],[1.9,1.7],[2.8,-1.6],[3.7,-2.5],[4.6,1.9],
[-4.0,0.3],[-3.1,2.9],[-2.2,-1.4],[-1.3,0.3],[-0.4,2.1],[0.5,-0.3],[1.4,2.3],[2.3,-0.5],[3.2,1.4],[4.1,-1.6],[5.0,0.3],
[-3.85,-0.6],[-2.95,0.0],[-2.05,-2.3],[-1.15,0.6],[-0.25,-2.2],[0.65,0.6],[1.55,-0.8],[2.45,0.6],[3.35,-1.0],[4.25,0.8],[5.15,-0.5],
[-4.7,-0.2],[-3.8,-1.8],[-2.9,0.9],[-2.0,-0.6],[-1.1,1.9],[-0.2,-0.9],[0.7,1.0],[1.6,-0.8],[2.5,1.6],[3.4,-0.3],[4.3,1.5],
[-4.1,1.0],[-3.2,-0.3],[-2.3,0.3],[-1.4,-1.9],[-0.5,0.2],[0.4,-1.1],[1.3,0.6],[2.2,-1.9],[3.1,0.6],[4.0,-1.1],[4.9,-0.6],
[-3.55,0.5],[-2.65,-1.5],[-1.75,-0.2],[-0.85,0.7],[0.05,-1.7],[0.95,0.9],[1.85,-0.1],[2.75,-1.9],[3.65,1.6],[4.55,-0.4],[5.45,0.4],
[-2.9,3.7],[-1.9,4.0],[-0.9,3.8],[0.3,4.1],[1.9,3.8],[2.8,3.5],[-2.5,-3.8],[-1.2,-4.0],[-0.3,-3.7],[0.9,-3.9],[2.3,-3.7],
[3.2,-3.3],[-3.4,-3.2],[3.6,3.2],
[-7.8,1.2],[-7.1,-1.05],[-7.04,0.64],[-6.7,-0.93],[-6.54,-0.25],[-6.49,0.25],[-6.28,1.9],[-6.23,-1.95],[-5.95,-0.8],[-5.88,0.03],
[-5.79,2.3],[-5.64,1.5],[-5.5,2.06],[-5.64,-0.65],[-5.3,-2.06],[-5.37,-2.45],[-5.02,-2.6],[-5.15,1.05],[-4.89,1.9],[7.66,-1.27],
[7.27,0.03],[6.93,0.7],[6.67,-0.8],[6.49,-2.0],[6.28,2.17],[6.16,-1.2],[4.99,-2.8],[5.34,-2.5],[5.6,-2.9],[4.76,3.2],
[4.33,3.46],[4.98,1.77],[5.33,2.0],[5.73,1.44],[5.99,1.6],[-1.08,5.15],[-2.36,4.76],[-2.17,-4.4],[-1.78,-4.1],[1.43,4.2],[0.65,4.0]
];
const pcaStar = [0.83, 0.0];

// Axis ticks and tick labels
const z1Ticks = [-5, -4, -3, -2, -1, 0, 1, 2, 3, 4];
const fsivYTicks = [-3.27, -0.27, 2.73, 5.73, 8.73];
const fscaYTicks = [-4, -2, 0, 2, 4];
const pc1Ticks = [-10, -5, 0, 5, 10];
const pc2Ticks = [-6, -4, -2, 0, 2, 4, 6];
const titles = ["FSIV", "FSCA", "PCA"];

const minus = s => String(s).replace("-", "\u2212");

const panels = [
  {title: titles[0], pts: fsivPoints, star: fsivStar, xd: [-5, 4], yd: [-6.27, 11.73],
   xt: z1Ticks, yt: fsivYTicks, yfmt: d => minus(d.toFixed(2)), top: 24,
   xl: ["z", "1"], yl: ["z", "2"], ylx: 24, starStroke: "#000"},
  {title: titles[1], pts: fscaPoints, star: fscaStar, xd: [-5, 4], yd: [-5, 5],
   xt: z1Ticks, yt: fscaYTicks, yfmt: d => minus(d), top: 171.5,
   xl: ["z", "1"], yl: ["z", "2"], ylx: 42, starStroke: "#fff"},
  {title: titles[2], pts: pcaPoints, star: pcaStar, xd: [-10, 10], yd: [-6, 6],
   xt: pc1Ticks, yt: pc2Ticks, yfmt: d => minus(d), top: 319,
   xl: ["PC", "1"], yl: ["PC", "2"], ylx: 38, starStroke: "#fff", big: true}
];

const svg = d3.select("#chart");
const L = 75, R = 590, H = 71.5;

function starPath(cx, cy, ro) {
  const ri = ro * 0.381966;
  const pts = [];
  for (let i = 0; i < 10; i++) {
    const a = -Math.PI / 2 + i * Math.PI / 5;
    const r = i % 2 ? ri : ro;
    pts.push([cx + r * Math.cos(a), cy + r * Math.sin(a)]);
  }
  return "M" + pts.map(p => p.join(",")).join("L") + "Z";
}

panels.forEach(p => {
  const x = d3.scaleLinear().domain(p.xd).range([L, R]);
  const y = d3.scaleLinear().domain(p.yd).range([p.top + H, p.top]);
  const g = svg.append("g");

  // points
  g.append("g").selectAll("circle").data(p.pts).join("circle")
    .attr("cx", d => x(d[0])).attr("cy", d => y(d[1]))
    .attr("r", 3.4).attr("fill", "#777")
    .attr("stroke", "#000").attr("stroke-width", 0.9);

  // reference star
  g.append("path").attr("d", starPath(x(p.star[0]), y(p.star[1]), 7))
    .attr("fill", "#fff").attr("stroke", p.starStroke).attr("stroke-width", 0.8)
    .attr("stroke-linejoin", "miter");

  // axes with inward ticks on all four sides
  const tk = 4.5;
  const bottom = g.append("g").attr("transform", `translate(0,${p.top + H})`)
    .call(d3.axisBottom(x).tickValues(p.xt).tickFormat(minus).tickSize(-tk).tickPadding(4));
  const top = g.append("g").attr("transform", `translate(0,${p.top})`)
    .call(d3.axisTop(x).tickValues(p.xt).tickFormat("").tickSize(-tk));
  const left = g.append("g").attr("transform", `translate(${L},0)`)
    .call(d3.axisLeft(y).tickValues(p.yt).tickFormat(p.yfmt).tickSize(-tk).tickPadding(4));
  const right = g.append("g").attr("transform", `translate(${R},0)`)
    .call(d3.axisRight(y).tickValues(p.yt).tickFormat("").tickSize(-tk));
  [bottom, top, left, right].forEach(a => {
    a.select(".domain").remove();
    a.selectAll("line").attr("stroke", "#000").attr("stroke-width", 1);
    a.selectAll("text").attr("font-size", 13).attr("font-family", "DejaVu Sans").attr("fill", "#000");
  });

  g.append("rect").attr("x", L).attr("y", p.top).attr("width", R - L).attr("height", H)
    .attr("fill", "none").attr("stroke", "#000").attr("stroke-width", 1);

  // title
  g.append("text").attr("x", (L + R) / 2).attr("y", p.top - 5)
    .attr("text-anchor", "middle").attr("font-size", 20).text(p.title);

  // axis labels (math style: italic serif with subscript)
  const fs = p.big ? 21 : 18;
  const xl = g.append("text").attr("x", (L + R) / 2).attr("y", p.top + H + (p.big ? 35 : 33))
    .attr("text-anchor", "middle").attr("font-family", "Liberation Serif")
    .attr("font-style", "italic").attr("font-size", fs);
  xl.append("tspan").text(p.xl[0]);
  xl.append("tspan").attr("font-style", "normal").attr("font-size", fs * 0.7)
    .attr("dy", fs * 0.25).text(p.xl[1]);

  const yl = g.append("text")
    .attr("transform", `translate(${p.ylx},${p.top + H / 2}) rotate(-90)`)
    .attr("text-anchor", "middle").attr("font-family", "Liberation Serif")
    .attr("font-style", "italic").attr("font-size", fs);
  yl.append("tspan").text(p.yl[0]);
  yl.append("tspan").attr("font-style", "normal").attr("font-size", fs * 0.7)
    .attr("dy", fs * 0.25).text(p.yl[1]);
});
</script>
</body></html>
